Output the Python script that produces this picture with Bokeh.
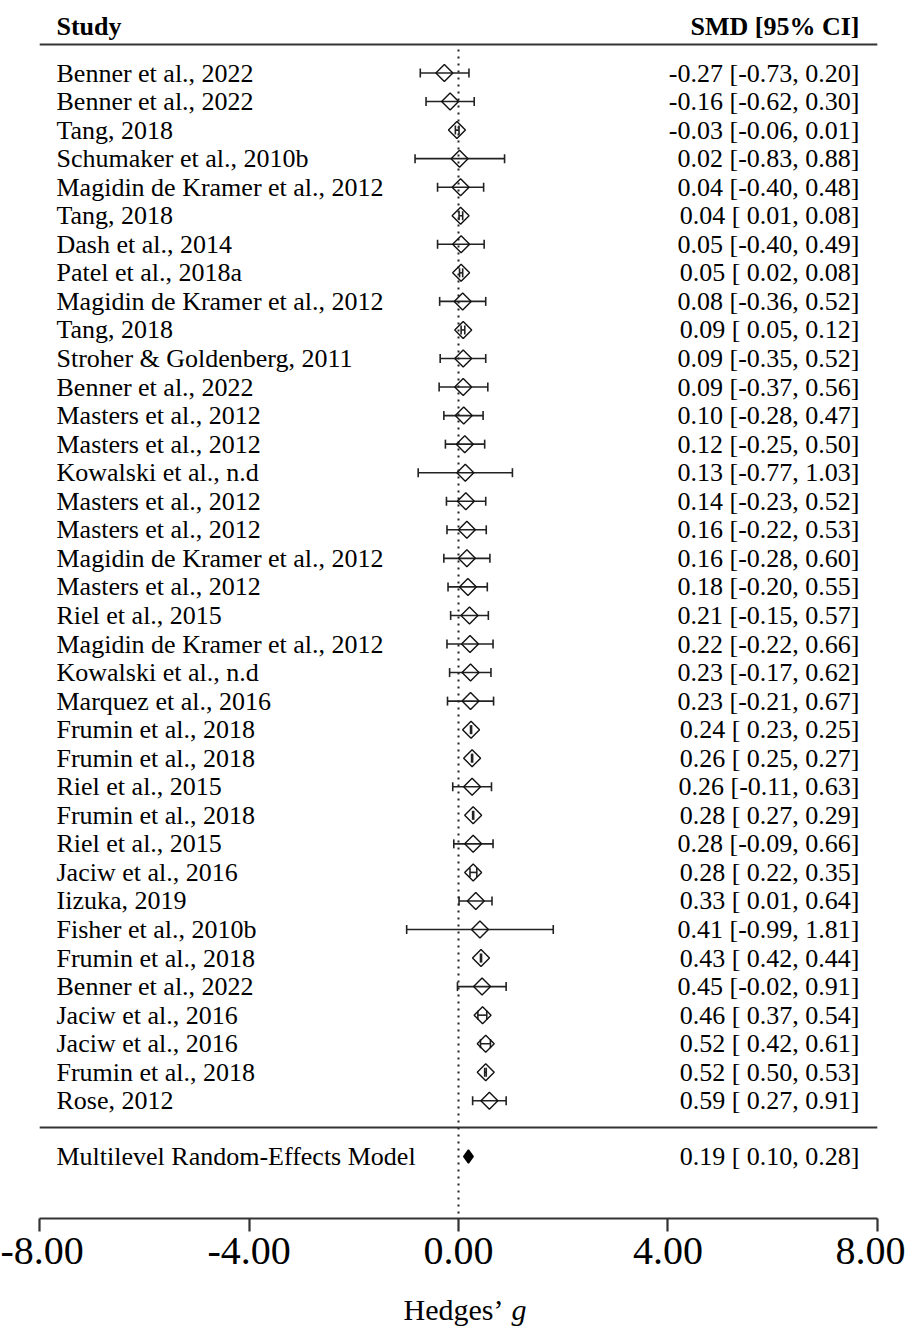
import math
from bokeh.plotting import figure
from bokeh.layouts import column
from bokeh.models import (Range1d, LinearAxis, FixedTicker, NumeralTickFormatter,
                          Whisker, TeeHead, ColumnDataSource)
from bokeh.core.properties import value
from bokeh.embed import file_html
from bokeh.resources import INLINE

# ---------------- data ----------------
studies = [
    "Benner et al., 2022", "Benner et al., 2022", "Tang, 2018",
    "Schumaker et al., 2010b", "Magidin de Kramer et al., 2012", "Tang, 2018",
    "Dash et al., 2014", "Patel et al., 2018a", "Magidin de Kramer et al., 2012",
    "Tang, 2018", "Stroher & Goldenberg, 2011", "Benner et al., 2022",
    "Masters et al., 2012", "Masters et al., 2012", "Kowalski et al., n.d",
    "Masters et al., 2012", "Masters et al., 2012", "Magidin de Kramer et al., 2012",
    "Masters et al., 2012", "Riel et al., 2015", "Magidin de Kramer et al., 2012",
    "Kowalski et al., n.d", "Marquez et al., 2016", "Frumin et al., 2018",
    "Frumin et al., 2018", "Riel et al., 2015", "Frumin et al., 2018",
    "Riel et al., 2015", "Jaciw et al., 2016", "Iizuka, 2019",
    "Fisher et al., 2010b", "Frumin et al., 2018", "Benner et al., 2022",
    "Jaciw et al., 2016", "Jaciw et al., 2016", "Frumin et al., 2018",
    "Rose, 2012",
]
smd = [-0.27, -0.16, -0.03, 0.02, 0.04, 0.04, 0.05, 0.05, 0.08, 0.09, 0.09, 0.09,
       0.10, 0.12, 0.13, 0.14, 0.16, 0.16, 0.18, 0.21, 0.22, 0.23, 0.23, 0.24,
       0.26, 0.26, 0.28, 0.28, 0.28, 0.33, 0.41, 0.43, 0.45, 0.46, 0.52, 0.52, 0.59]
ci_lo = [-0.73, -0.62, -0.06, -0.83, -0.40, 0.01, -0.40, 0.02, -0.36, 0.05, -0.35, -0.37,
         -0.28, -0.25, -0.77, -0.23, -0.22, -0.28, -0.20, -0.15, -0.22, -0.17, -0.21, 0.23,
         0.25, -0.11, 0.27, -0.09, 0.22, 0.01, -0.99, 0.42, -0.02, 0.37, 0.42, 0.50, 0.27]
ci_hi = [0.20, 0.30, 0.01, 0.88, 0.48, 0.08, 0.49, 0.08, 0.52, 0.12, 0.52, 0.56,
         0.47, 0.50, 1.03, 0.52, 0.53, 0.60, 0.55, 0.57, 0.66, 0.62, 0.67, 0.25,
         0.27, 0.63, 0.29, 0.66, 0.35, 0.64, 1.81, 0.44, 0.91, 0.54, 0.61, 0.53, 0.91]

summary_label = "Multilevel Random-Effects Model"
summary_est, summary_lo, summary_hi = 0.19, 0.10, 0.28

x_ticks = [-8, -4, 0, 4, 8]
header_left = "Study"
header_right = "SMD [95% CI]"
axis_title = "Hedges\u2019"
axis_title_italic = "g"

# ---------------- layout ----------------
W = 905
H_MAIN = 1282
FRAME_H = 1218
H_TITLE = 44
PX_PER_UNIT = 52.35
ZERO_X = 458
x_range = Range1d(-ZERO_X / PX_PER_UNIT, (W - ZERO_X) / PX_PER_UNIT)

ROW0 = 72.5
ROW_STEP = 28.55
row_y = [ROW0 + i * ROW_STEP for i in range(len(studies))]
HEADER_Y = 26
TOP_LINE_Y = 44
BOTTOM_LINE_Y = 1127
SUMMARY_Y = 1156

LABEL_X = (56 - ZERO_X) / PX_PER_UNIT
RIGHT_X = (859 - ZERO_X) / PX_PER_UNIT

FONT = value("Liberation Serif")
FS = "26px"

ci_text = [f"{e:.2f} [{l:5.2f}, {h:.2f}]" for e, l, h in zip(smd, ci_lo, ci_hi)]
summary_text = f"{summary_est:.2f} [{summary_lo:5.2f}, {summary_hi:.2f}]"

p = figure(width=W, height=H_MAIN, x_range=x_range,
           y_range=Range1d(FRAME_H, 0), output_backend="svg",
           toolbar_location=None, x_axis_location=None, y_axis_location=None,
           min_border_left=0, min_border_right=0, min_border_top=0,
           min_border_bottom=H_MAIN - FRAME_H)
p.outline_line_color = None
p.xgrid.visible = False
p.ygrid.visible = False
p.background_fill_color = "white"
p.border_fill_color = "white"

LINE_COL = "#333333"

# reference line at 0 (dotted)
p.segment(x0=[0], y0=[TOP_LINE_Y + 5], x1=[0], y1=[FRAME_H],
          line_color="#222222", line_width=2, line_dash="2 5")

# header and separator lines
p.segment(x0=[x_ticks[0], x_ticks[0]], y0=[TOP_LINE_Y, BOTTOM_LINE_Y],
          x1=[x_ticks[-1], x_ticks[-1]], y1=[TOP_LINE_Y, BOTTOM_LINE_Y],
          line_color=LINE_COL, line_width=2.2)

# headers
p.text(x=[LABEL_X], y=[HEADER_Y], text=[header_left], text_font=FONT,
       text_font_size=FS, text_font_style="bold", text_baseline="alphabetic",
       text_align="left", text_color="black")
p.text(x=[RIGHT_X], y=[HEADER_Y], text=[header_right], text_font=FONT,
       text_font_size=FS, text_font_style="bold", text_baseline="alphabetic",
       text_align="right", text_color="black")

src = ColumnDataSource(dict(y=row_y, est=smd, lo=ci_lo, hi=ci_hi,
                            study=studies, ci=ci_text))

# confidence intervals
wh = Whisker(base="y", lower="lo", upper="hi", dimension="width", source=src,
             line_color="#222222", line_width=1.6,
             upper_head=TeeHead(size=9, line_width=1.6, line_color="#222222"),
             lower_head=TeeHead(size=9, line_width=1.6, line_color="#222222"))
p.add_layout(wh)

# point estimates (open diamonds)
p.scatter(x="est", y="y", source=src, marker="square", angle=math.pi / 4,
          size=12, fill_color=None, line_color="#111111", line_width=1.4)

# row texts
p.text(x=LABEL_X, y="y", text="study", source=src, text_font=FONT,
       text_font_size=FS, text_baseline="middle", text_align="left",
       text_color="black")
p.text(x=RIGHT_X, y="y", text="ci", source=src, text_font=FONT,
       text_font_size=FS, text_baseline="middle", text_align="right",
       text_color="black")

# summary
p.patch(x=[summary_lo, summary_est, summary_hi, summary_est],
        y=[SUMMARY_Y, SUMMARY_Y - 6.5, SUMMARY_Y, SUMMARY_Y + 6.5],
        fill_color="black", line_color="black", line_width=1.5)
p.text(x=[LABEL_X], y=[SUMMARY_Y], text=[summary_label], text_font=FONT,
       text_font_size=FS, text_baseline="middle", text_align="left",
       text_color="black")
p.text(x=[RIGHT_X], y=[SUMMARY_Y], text=[summary_text], text_font=FONT,
       text_font_size=FS, text_baseline="middle", text_align="right",
       text_color="black")

# x axis
ax = LinearAxis(ticker=FixedTicker(ticks=x_ticks),
                formatter=NumeralTickFormatter(format="0.00"),
                bounds=(x_ticks[0], x_ticks[-1]))
ax.axis_line_color = LINE_COL
ax.axis_line_width = 2.2
ax.major_tick_line_color = LINE_COL
ax.major_tick_line_width = 2.2
ax.major_tick_in = 0
ax.major_tick_out = 13
ax.minor_tick_line_color = None
ax.major_label_text_font = "Liberation Serif"
ax.major_label_text_font_size = "40px"
ax.major_label_text_color = "black"
ax.major_label_standoff = 6
p.add_layout(ax, "below")

# axis title strip (plain "Hedges’" + italic "g")
p2 = figure(width=W, height=H_TITLE, x_range=x_range,
            y_range=Range1d(H_TITLE, 0), output_backend="svg",
            toolbar_location=None, x_axis_location=None, y_axis_location=None,
            min_border_left=0, min_border_right=0, min_border_top=0,
            min_border_bottom=0)
p2.outline_line_color = None
p2.xgrid.visible = False
p2.ygrid.visible = False
p2.background_fill_color = "white"
p2.border_fill_color = "white"
TITLE_BASE = 27
TITLE_FS = "30px"
p2.text(x=[(503 - ZERO_X) / PX_PER_UNIT], y=[TITLE_BASE], text=[axis_title],
        text_font=FONT, text_font_size=TITLE_FS, text_align="right",
        text_baseline="alphabetic", text_color="black")
p2.text(x=[(511 - ZERO_X) / PX_PER_UNIT], y=[TITLE_BASE], text=[axis_title_italic],
        text_font=FONT, text_font_size=TITLE_FS, text_font_style="italic",
        text_align="left", text_baseline="alphabetic", text_color="black")

layout = column(p, p2, spacing=0)
open("out.html", "w").write(file_html(layout, INLINE))
